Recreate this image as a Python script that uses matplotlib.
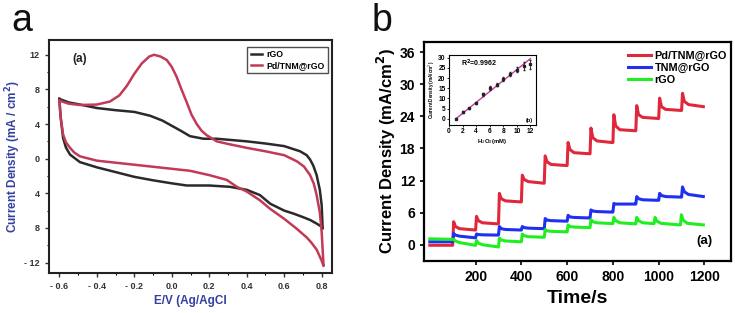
import numpy as np
import matplotlib
matplotlib.use("Agg")
import matplotlib.pyplot as plt

plt.rcParams['font.family'] = ['Liberation Sans', 'DejaVu Sans']

# ---------------- (a) cyclic voltammograms ----------------
# rGO loop: forward (upper) branch then return (lower) branch
rgo_E = [-0.6, -0.55, -0.49, -0.4, -0.3, -0.2, -0.116, -0.05, 0.0, 0.05, 0.097, 0.17, 0.24, 0.32, 0.4,
         0.5, 0.6, 0.685, 0.72, 0.738, 0.755, 0.773, 0.79, 0.8, 0.805,
         0.795, 0.773, 0.74, 0.7, 0.65, 0.6, 0.525, 0.47, 0.4, 0.31, 0.2, 0.08, 0.0, -0.1,
         -0.2, -0.3, -0.4, -0.49, -0.543, -0.565, -0.58, -0.593, -0.6]
rgo_I = [6.9, 6.5, 6.25, 5.85, 5.6, 5.4, 4.96, 4.4, 3.8, 3.2, 2.6, 2.3, 2.3, 2.15, 2.0,
         1.75, 1.45, 0.85, 0.4, -0.1, -0.8, -1.9, -3.6, -5.4, -8.1,
         -7.8, -7.5, -7.1, -6.75, -6.35, -6.0, -5.2, -4.2, -3.6, -3.25, -3.1, -3.1, -2.85, -2.5,
         -2.1, -1.55, -1.0, -0.4, 0.47, 1.3, 2.4, 4.8, 6.9]

pd_E = [-0.6, -0.55, -0.49, -0.4, -0.33, -0.28, -0.24, -0.2, -0.16, -0.12, -0.095, -0.06, -0.027,
        0.0, 0.026, 0.05, 0.08, 0.105, 0.133, 0.16, 0.187, 0.24, 0.3, 0.4, 0.5, 0.6, 0.667, 0.705, 0.738,
        0.758, 0.773, 0.79, 0.8, 0.81,
        0.8, 0.773, 0.745, 0.72, 0.667, 0.6, 0.525, 0.47, 0.4, 0.347, 0.293, 0.2, 0.097, 0.0,
        -0.2, -0.4, -0.49, -0.52, -0.543, -0.565, -0.58, -0.593, -0.6]
pd_I = [6.7, 6.35, 6.2, 6.25, 6.6, 7.3, 8.4, 9.8, 11.0, 11.8, 12.0, 11.8, 11.4,
        10.6, 9.45, 8.1, 6.5, 5.1, 4.0, 3.2, 2.7, 2.0, 1.7, 1.25, 0.85, 0.4, -0.3, -0.9, -1.9,
        -2.9, -4.2, -6.2, -8.5, -12.4,
        -11.8, -10.5, -9.7, -9.1, -8.1, -6.95, -5.8, -4.8, -3.8, -3.25, -2.45, -1.9, -1.4, -1.17,
        -0.7, -0.23, 0.27, 0.7, 1.25, 1.9, 2.8, 4.8, 6.7]

cv_yticks = [12, 8, 4, 0, -4, -8, -12]
cv_ytick_labels = ['12', '8', '4', '0', '4', '8', '- 12']
cv_xticks = [-0.6, -0.4, -0.2, 0.0, 0.2, 0.4, 0.6, 0.8]
cv_xtick_labels = ['- 0.6', '- 0.4', '- 0.2', '0.0', '0.2', '0.4', '0.6', '0.8']

# ---------------- (b) amperometric i-t ----------------
# red / blue share time points; each step: jump, peak, decay, settle, plateau end
time_s = [0, 97,
          100, 104, 112, 130, 197,
          200, 204, 212, 230, 297,
          300, 304, 312, 330, 397,
          400, 404, 412, 430, 497,
          500, 504, 512, 530, 597,
          600, 604, 612, 630, 697,
          700, 704, 712, 730, 797,
          800, 804, 812, 830, 897,
          900, 904, 912, 930, 997,
          1000, 1004, 1012, 1030, 1097,
          1100, 1104, 1112, 1130, 1195]
pd_j = [-0.1, -0.1,
        -0.1, 4.3, 3.4, 3.0, 2.75,
        2.75, 5.3, 4.5, 4.1, 3.9,
        3.9, 9.6, 8.6, 8.2, 8.0,
        8.0, 13.0, 12.2, 11.8, 11.5,
        11.5, 16.6, 15.5, 15.0, 14.8,
        14.8, 19.1, 17.8, 17.2, 17.0,
        17.0, 21.8, 20.0, 19.4, 19.1,
        19.1, 24.3, 22.2, 21.5, 21.3,
        21.3, 26.0, 24.3, 23.8, 23.6,
        23.6, 27.4, 25.8, 25.3, 25.1,
        25.1, 28.3, 26.8, 26.2, 25.8]
tnm_j = [0.55, 0.55,
         0.55, 2.1, 1.8, 1.6, 1.3,
         1.3, 2.0, 1.9, 1.85, 1.8,
         1.8, 3.4, 3.0, 2.85, 2.75,
         2.75, 3.4, 3.2, 3.1, 3.0,
         3.0, 4.9, 4.6, 4.5, 4.4,
         4.4, 5.5, 5.2, 5.1, 5.0,
         5.0, 6.5, 6.3, 6.2, 6.1,
         6.1, 7.7, 7.6, 7.6, 7.6,
         7.6, 9.0, 8.6, 8.4, 8.3,
         8.3, 9.6, 9.2, 9.0, 8.9,
         8.9, 10.8, 9.9, 9.4, 9.0]
rgo_t = [0, 97,
         100, 104, 112, 130, 197,
         200, 204, 212, 230, 297,
         300, 304, 312, 330, 397,
         400, 404, 412, 430, 497,
         500, 504, 512, 530, 597,
         600, 604, 612, 630, 697,
         700, 704, 712, 730, 797,
         800, 804, 812, 830, 897,
         900, 904, 912, 930, 977,
         980, 984, 992, 1010, 1092,
         1095, 1099, 1107, 1125, 1195]
rgo_j = [1.1, 1.0,
         1.0, 1.0, 0.7, 0.4, -0.1,
         -0.1, 0.8, 0.3, 0.0, -0.4,
         -0.4, 1.2, 0.9, 0.7, 0.55,
         0.55, 2.0, 1.7, 1.5, 1.4,
         1.4, 2.8, 2.6, 2.5, 2.4,
         2.4, 3.7, 3.4, 3.3, 3.2,
         3.2, 4.7, 4.3, 4.1, 3.95,
         3.95, 5.1, 4.5, 4.1, 3.9,
         3.9, 5.1, 4.5, 4.1, 3.95,
         3.95, 5.1, 4.4, 4.0, 3.7,
         3.7, 5.6, 4.6, 4.0, 3.7]

# inset calibration
conc_mM = [1, 2, 3, 4, 5, 6, 7, 8, 9, 10, 11, 12]
cal_j = [0.0, 3.2, 5.1, 7.9, 12.0, 15.2, 16.8, 19.6, 22.0, 24.1, 26.0, 26.8]
cal_err = [0.3, 0.4, 0.4, 0.5, 0.8, 0.9, 0.9, 1.0, 1.1, 1.2, 1.8, 2.2]
fit_x = [1, 12]
fit_y = [0.0, 29.6]

blue_lbl = '#3340a0'
red_cv = '#c23a55'

fig = plt.figure(figsize=(7.35, 3.13), dpi=100)

# ---- panel a ----
ax1 = fig.add_axes([0.0667, 0.128, 0.385, 0.744])
ax1.plot(rgo_E, rgo_I, color='#2a2a2a', lw=1.8, label='rGO')
ax1.plot(pd_E, pd_I, color=red_cv, lw=1.8, label='Pd/TNM@rGO')
ax1.set_xlim(-0.655, 0.855)
ax1.set_ylim(-13.2, 13.7)
ax1.set_yticks(cv_yticks)
ax1.set_yticklabels(cv_ytick_labels)
ax1.set_xticks(cv_xticks)
ax1.set_xticklabels(cv_xtick_labels)
ax1.set_yticks([10, 6, 2, -2, -6, -10], minor=True)
ax1.set_xticks([-0.5, -0.3, -0.1, 0.1, 0.3, 0.5, 0.7], minor=True)
ax1.tick_params(direction='out', length=3, width=1, labelsize=6.5, colors='#333333')
ax1.tick_params(which='minor', direction='out', length=1.5, width=0.8)
for lab in ax1.get_xticklabels() + ax1.get_yticklabels():
    lab.set_fontweight('bold')
for s in ax1.spines.values():
    s.set_linewidth(1.5)
    s.set_color('#222222')
ax1.set_ylabel('Current Density (mA / cm$^\\mathbf{2}$)', color=blue_lbl, fontsize=8.5,
               fontweight='bold', labelpad=1)
ax1.set_xlabel('E/V (Ag/AgCl', color=blue_lbl, fontsize=8.5, fontweight='bold', labelpad=3)
ax1.text(-0.53, 11.2, '(a)', fontsize=8.5, fontweight='bold', color='#222222')
leg1 = ax1.legend(loc='upper right', bbox_to_anchor=(1.0, 0.99), frameon=True,
                  fancybox=False, handlelength=1.3, borderpad=0.35, labelspacing=0.25,
                  handletextpad=0.5, prop={'weight': 'bold', 'size': 6.3})
leg1.get_frame().set_edgecolor('#222222')
leg1.get_frame().set_linewidth(1.0)
fig.text(0.015, 0.90, 'a', fontsize=27, color='#111111')

# ---- panel b ----
ax2 = fig.add_axes([0.577, 0.166, 0.4176, 0.70])
ax2.plot(time_s, pd_j, color='#e0283c', lw=2.2, label='Pd/TNM@rGO')
ax2.plot(time_s, tnm_j, color='#2030f0', lw=2.2, label='TNM@rGO')
ax2.plot(rgo_t, rgo_j, color='#20ee20', lw=2.2, label='rGO')
ax2.set_xlim(-25, 1316)
ax2.set_ylim(-3.05, 37.9)
ax2.set_xticks([200, 400, 600, 800, 1000, 1200])
ax2.set_yticks([0, 6, 12, 18, 24, 30, 36])
ax2.tick_params(direction='out', length=3, width=1.2, labelsize=10)
for lab in ax2.get_xticklabels() + ax2.get_yticklabels():
    lab.set_fontweight('bold')
for s in ax2.spines.values():
    s.set_linewidth(1.6)
ax2.set_ylabel('Current Density (mA/cm$^\\mathbf{2}$)', fontsize=12, fontweight='bold', labelpad=1)
ax2.set_xlabel('Time/s', fontsize=14, fontweight='bold', labelpad=4)
ax2.text(1200, 0.2, '(a)', fontsize=9.5, fontweight='bold', ha='center')
ax2.legend(loc='upper left', bbox_to_anchor=(0.635, 1.0), frameon=False, handlelength=2.2,
           labelspacing=0.2, handletextpad=0.3, borderpad=0.3,
           prop={'weight': 'bold', 'size': 7.8})
fig.text(0.505, 0.90, 'b', fontsize=27, color='#111111')

# ---- inset ----
ax3 = fig.add_axes([0.611, 0.601, 0.118, 0.224])
ax3.errorbar(conc_mM, cal_j, yerr=cal_err, fmt='s', ms=1.5, color='#222222', elinewidth=0.6,
             capsize=0.8, zorder=3)
ax3.plot(fit_x, fit_y, color='#c83c9c', lw=1.0, zorder=2)
ax3.set_xlim(0, 12.8)
ax3.set_ylim(-3, 31.5)
ax3.set_xticks([0, 2, 4, 6, 8, 10, 12])
ax3.set_yticks([0, 5, 10, 15, 20, 25, 30])
ax3.tick_params(direction='out', length=1.5, width=0.6, labelsize=4.8, pad=1)
for lab in ax3.get_xticklabels() + ax3.get_yticklabels():
    lab.set_fontweight('bold')
for s in ax3.spines.values():
    s.set_linewidth(0.8)
ax3.set_ylabel('Current Density (mA/cm$^2$)', fontsize=3.3, fontweight='bold', labelpad=1)
ax3.set_xlabel('H$_2$O$_2$(mM)', fontsize=4.2, fontweight='bold', labelpad=1)
ax3.text(1.8, 25.5, 'R$^\\mathbf{2}$=0.9962', fontsize=5, fontweight='bold')
ax3.text(12.4, -1.5, '(b)', fontsize=4, fontweight='bold', ha='right')

fig.savefig('out.png', dpi=100)
